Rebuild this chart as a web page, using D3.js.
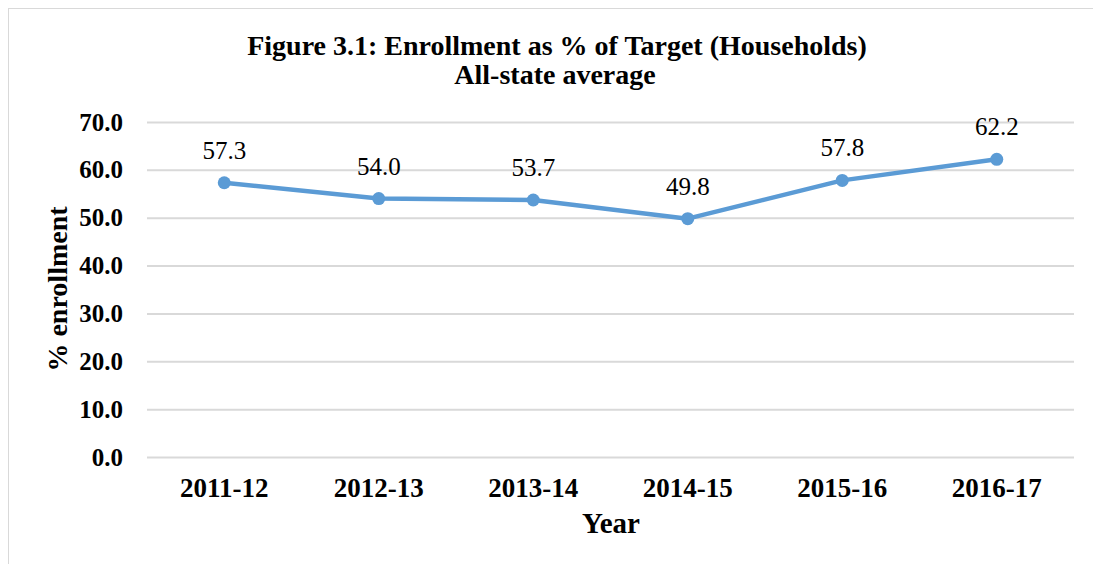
<!DOCTYPE html>
<html>
<head>
<meta charset="utf-8">
<script src="https://cdn.jsdelivr.net/npm/d3@7"></script>
<style>
  body { margin: 0; background: #fff; }
  svg text { font-family: "Liberation Serif", "Times New Roman", serif; fill: #000; }
</style>
</head>
<body>
<div id="plot"></div>
<script>
const years = ["2011-12", "2012-13", "2013-14", "2014-15", "2015-16", "2016-17"];
const enrollment = [57.3, 54.0, 53.7, 49.8, 57.8, 62.2];
const yTicks = [0, 10, 20, 30, 40, 50, 60, 70];

const w = 1093;
const h = 564;
const margin = {left: 147, right: 19, top: 122, bottom: 107};
const serif = "Liberation Serif, Times New Roman, serif";

const svg = d3.select("#plot")
  .append("svg")
  .attr("width", w)
  .attr("height", h);

// chart border
svg.append("rect")
  .attr("x", 8.5).attr("y", 8.5)
  .attr("width", w + 20).attr("height", h + 20)
  .attr("fill", "none")
  .attr("stroke", "#d9d9d9");

const x = d3.scaleBand()
  .domain(years)
  .range([margin.left, w - margin.right]);

const y = d3.scaleLinear()
  .domain([0, 70])
  .range([h - margin.bottom, margin.top]);

// gridlines + y labels
const yAxis = d3.axisLeft(y)
  .tickValues(yTicks)
  .tickFormat(d3.format(".1f"))
  .tickSize(-(w - margin.left - margin.right))
  .tickPadding(24);

svg.append("g")
  .attr("transform", "translate(" + margin.left + ",0)")
  .call(yAxis)
  .call(g => g.select(".domain").remove())
  .call(g => g.selectAll(".tick line").attr("stroke", "#d9d9d9").attr("stroke-width", 2))
  .call(g => g.selectAll(".tick text")
    .attr("font-size", 25).attr("font-weight", "bold")
    .attr("font-family", serif).attr("fill", "#000"));

// x labels
const xAxis = d3.axisBottom(x).tickSize(0).tickPadding(21);
svg.append("g")
  .attr("transform", "translate(0," + (h - margin.bottom) + ")")
  .call(xAxis)
  .call(g => g.select(".domain").remove())
  .call(g => g.selectAll(".tick text")
    .attr("font-size", 27).attr("font-weight", "bold")
    .attr("font-family", serif).attr("fill", "#000"));

// line
const line = d3.line()
  .x((d, i) => x(years[i]) + x.bandwidth() / 2)
  .y(d => y(d));

svg.append("path")
  .datum(enrollment)
  .attr("d", line)
  .attr("fill", "none")
  .attr("stroke", "#5b9bd5")
  .attr("stroke-width", 4.5)
  .attr("stroke-linejoin", "round");

svg.append("g")
  .selectAll("circle")
  .data(enrollment)
  .enter()
  .append("circle")
  .attr("cx", (d, i) => x(years[i]) + x.bandwidth() / 2)
  .attr("cy", d => y(d))
  .attr("r", 6.5)
  .attr("fill", "#5b9bd5");

// data labels
svg.append("g")
  .selectAll("text")
  .data(enrollment)
  .enter()
  .append("text")
  .attr("x", (d, i) => x(years[i]) + x.bandwidth() / 2)
  .attr("y", d => y(d) - 24)
  .attr("text-anchor", "middle")
  .attr("font-family", serif)
  .attr("font-size", 25)
  .text(d => d.toFixed(1));

// titles
svg.append("text")
  .attr("x", 557).attr("y", 55)
  .attr("text-anchor", "middle")
  .attr("font-family", serif)
  .attr("font-size", 28).attr("font-weight", "bold")
  .text("Figure 3.1: Enrollment as % of Target (Households)");

svg.append("text")
  .attr("x", 555).attr("y", 84)
  .attr("text-anchor", "middle")
  .attr("font-family", serif)
  .attr("font-size", 28).attr("font-weight", "bold")
  .text("All-state average");

svg.append("text")
  .attr("x", 611).attr("y", 533)
  .attr("text-anchor", "middle")
  .attr("font-family", serif)
  .attr("font-size", 29).attr("font-weight", "bold")
  .text("Year");

svg.append("text")
  .attr("transform", "translate(67,289) rotate(-90)")
  .attr("text-anchor", "middle")
  .attr("font-family", serif)
  .attr("font-size", 28).attr("font-weight", "bold")
  .text("% enrollment");
</script>
</body>
</html>
